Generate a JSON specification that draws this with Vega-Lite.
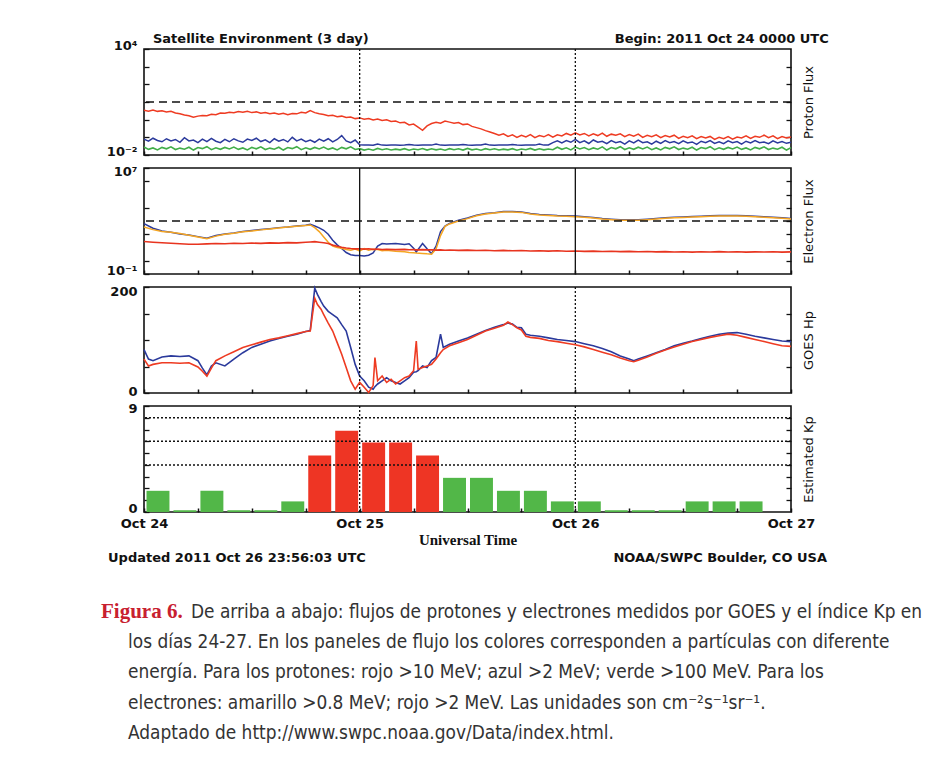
{
  "$schema": "https://vega.github.io/schema/vega-lite/v6.json",
  "background": "white",
  "padding": {"left": 100, "top": 32, "right": 5, "bottom": 5},
  "bounds": "flush",
  "spacing": 13,
  "config": {
    "view": {"stroke": "#111", "strokeWidth": 1.6},
    "font": "DejaVu Sans",
    "axis": {"labelFont": "DejaVu Sans", "labelFontSize": 13, "labelFontWeight": "bold", "labelColor": "#111", "tickColor": "#111", "titleFont": "DejaVu Sans", "titleFontWeight": "normal", "titleFontSize": 13, "titleColor": "#111", "grid": false, "domain": false, "labelFlush": false, "labelOverlap": false},
    "text": {"font": "DejaVu Sans", "fontSize": 13, "fontWeight": "bold", "color": "#111"}
  },
  "datasets": {
    "proton": [
      {"h":0,"g":-1.55,"b":-1.10,"r":0.53},{"h":0.5,"g":-1.68,"b":-1.22,"r":0.48},{"h":1,"g":-1.60,"b":-1.05,"r":0.55},{"h":1.5,"g":-1.71,"b":-1.18,"r":0.47},
      {"h":2,"g":-1.57,"b":-1.25,"r":0.50},{"h":2.5,"g":-1.65,"b":-1.08,"r":0.44},{"h":3,"g":-1.54,"b":-1.20,"r":0.47},{"h":3.5,"g":-1.69,"b":-1.12,"r":0.38},
      {"h":4,"g":-1.61,"b":-1.28,"r":0.33},{"h":4.5,"g":-1.67,"b":-1.02,"r":0.26},{"h":5,"g":-1.56,"b":-1.20,"r":0.22},{"h":5.5,"g":-1.72,"b":-1.15,"r":0.14},
      {"h":6,"g":-1.58,"b":-1.30,"r":0.20},{"h":6.5,"g":-1.64,"b":-1.10,"r":0.24},{"h":7,"g":-1.53,"b":-1.24,"r":0.22},{"h":7.5,"g":-1.70,"b":-1.06,"r":0.31},
      {"h":8,"g":-1.59,"b":-1.22,"r":0.28},{"h":8.5,"g":-1.68,"b":-1.30,"r":0.38},{"h":9,"g":-1.57,"b":-1.12,"r":0.36},{"h":9.5,"g":-1.66,"b":-1.25,"r":0.42},
      {"h":10,"g":-1.55,"b":-1.08,"r":0.39},{"h":10.5,"g":-1.68,"b":-1.20,"r":0.46},{"h":11,"g":-1.60,"b":-1.28,"r":0.42},{"h":11.5,"g":-1.71,"b":-1.10,"r":0.47},
      {"h":12,"g":-1.57,"b":-1.18,"r":0.40},{"h":12.5,"g":-1.65,"b":-1.05,"r":0.44},{"h":13,"g":-1.54,"b":-1.24,"r":0.36},{"h":13.5,"g":-1.69,"b":-1.14,"r":0.40},
      {"h":14,"g":-1.61,"b":-1.30,"r":0.33},{"h":14.5,"g":-1.67,"b":-1.08,"r":0.38},{"h":15,"g":-1.56,"b":-1.22,"r":0.31},{"h":15.5,"g":-1.72,"b":-1.12,"r":0.36},
      {"h":16,"g":-1.58,"b":-1.26,"r":0.28},{"h":16.5,"g":-1.64,"b":-1.00,"r":0.35},{"h":17,"g":-1.53,"b":-1.20,"r":0.33},{"h":17.5,"g":-1.70,"b":-1.10,"r":0.42},
      {"h":18,"g":-1.59,"b":-1.25,"r":0.38},{"h":18.5,"g":-1.68,"b":-1.15,"r":0.52},{"h":19,"g":-1.57,"b":-1.28,"r":0.40},{"h":19.5,"g":-1.66,"b":-1.10,"r":0.33},
      {"h":20,"g":-1.55,"b":-1.22,"r":0.29},{"h":20.5,"g":-1.68,"b":-1.08,"r":0.22},{"h":21,"g":-1.60,"b":-1.26,"r":0.25},{"h":21.5,"g":-1.71,"b":-1.12,"r":0.17},
      {"h":22,"g":-1.57,"b":-0.90,"r":0.20},{"h":22.5,"g":-1.65,"b":-1.20,"r":0.12},{"h":23,"g":-1.54,"b":-1.30,"r":0.15},{"h":23.5,"g":-1.69,"b":-1.15,"r":0.06},
      {"h":24,"g":-1.64,"b":-1.42,"r":0.10},{"h":24.5,"g":-1.72,"b":-1.44,"r":0.03},{"h":25,"g":-1.66,"b":-1.43,"r":0.07},{"h":25.5,"g":-1.73,"b":-1.45,"r":-0.02},
      {"h":26,"g":-1.63,"b":-1.38,"r":0.04},{"h":26.5,"g":-1.70,"b":-1.44,"r":-0.05},{"h":27,"g":-1.65,"b":-1.45,"r":-0.01},{"h":27.5,"g":-1.72,"b":-1.43,"r":-0.10},
      {"h":28,"g":-1.67,"b":-1.44,"r":-0.08},{"h":28.5,"g":-1.71,"b":-1.45,"r":-0.18},{"h":29,"g":-1.64,"b":-1.44,"r":-0.15},{"h":29.5,"g":-1.73,"b":-1.40,"r":-0.30},
      {"h":30,"g":-1.66,"b":-1.44,"r":-0.25},{"h":30.5,"g":-1.70,"b":-1.45,"r":-0.42},{"h":31,"g":-1.63,"b":-1.44,"r":-0.60},{"h":31.5,"g":-1.72,"b":-1.43,"r":-0.35},
      {"h":32,"g":-1.65,"b":-1.44,"r":-0.22},{"h":32.5,"g":-1.71,"b":-1.38,"r":-0.15},{"h":33,"g":-1.66,"b":-1.44,"r":-0.20},{"h":33.5,"g":-1.73,"b":-1.45,"r":-0.08},
      {"h":34,"g":-1.64,"b":-1.44,"r":-0.14},{"h":34.5,"g":-1.70,"b":-1.43,"r":-0.20},{"h":35,"g":-1.65,"b":-1.44,"r":-0.16},{"h":35.5,"g":-1.72,"b":-1.40,"r":-0.28},
      {"h":36,"g":-1.63,"b":-1.44,"r":-0.24},{"h":36.5,"g":-1.71,"b":-1.45,"r":-0.38},{"h":37,"g":-1.66,"b":-1.44,"r":-0.45},{"h":37.5,"g":-1.73,"b":-1.43,"r":-0.52},
      {"h":38,"g":-1.64,"b":-1.38,"r":-0.62},{"h":38.5,"g":-1.70,"b":-1.44,"r":-0.70},{"h":39,"g":-1.65,"b":-1.45,"r":-0.78},{"h":39.5,"g":-1.72,"b":-1.44,"r":-0.88},
      {"h":40,"g":-1.67,"b":-1.43,"r":-0.80},{"h":40.5,"g":-1.71,"b":-1.44,"r":-0.95},{"h":41,"g":-1.64,"b":-1.40,"r":-0.86},{"h":41.5,"g":-1.73,"b":-1.44,"r":-1.00},
      {"h":42,"g":-1.66,"b":-1.45,"r":-0.88},{"h":42.5,"g":-1.70,"b":-1.44,"r":-0.98},{"h":43,"g":-1.63,"b":-1.43,"r":-0.85},{"h":43.5,"g":-1.72,"b":-1.44,"r":-1.02},
      {"h":44,"g":-1.65,"b":-1.38,"r":-0.90},{"h":44.5,"g":-1.71,"b":-1.44,"r":-0.97},{"h":45,"g":-1.66,"b":-1.43,"r":-0.84},{"h":45.5,"g":-1.70,"b":-1.30,"r":-0.99},
      {"h":46,"g":-1.56,"b":-1.20,"r":-0.86},{"h":46.5,"g":-1.68,"b":-1.32,"r":-0.92},{"h":47,"g":-1.59,"b":-1.18,"r":-0.78},{"h":47.5,"g":-1.71,"b":-1.28,"r":-0.88},
      {"h":48,"g":-1.55,"b":-1.12,"r":-0.74},{"h":48.5,"g":-1.66,"b":-1.30,"r":-0.86},{"h":49,"g":-1.58,"b":-1.20,"r":-0.78},{"h":49.5,"g":-1.70,"b":-1.35,"r":-0.92},
      {"h":50,"g":-1.60,"b":-1.15,"r":-0.80},{"h":50.5,"g":-1.67,"b":-1.28,"r":-0.90},{"h":51,"g":-1.54,"b":-1.22,"r":-0.76},{"h":51.5,"g":-1.72,"b":-1.36,"r":-0.94},
      {"h":52,"g":-1.58,"b":-1.18,"r":-0.82},{"h":52.5,"g":-1.65,"b":-1.30,"r":-0.88},{"h":53,"g":-1.53,"b":-1.24,"r":-0.80},{"h":53.5,"g":-1.69,"b":-1.38,"r":-0.96},
      {"h":54,"g":-1.59,"b":-1.20,"r":-0.84},{"h":54.5,"g":-1.68,"b":-1.32,"r":-0.93},{"h":55,"g":-1.56,"b":-1.16,"r":-0.82},{"h":55.5,"g":-1.66,"b":-1.30,"r":-1.00},
      {"h":56,"g":-1.55,"b":-1.25,"r":-0.88},{"h":56.5,"g":-1.70,"b":-1.38,"r":-0.96},{"h":57,"g":-1.60,"b":-1.22,"r":-0.86},{"h":57.5,"g":-1.71,"b":-1.34,"r":-1.02},
      {"h":58,"g":-1.57,"b":-1.18,"r":-0.90},{"h":58.5,"g":-1.65,"b":-1.30,"r":-0.98},{"h":59,"g":-1.54,"b":-1.24,"r":-0.88},{"h":59.5,"g":-1.69,"b":-1.36,"r":-1.06},
      {"h":60,"g":-1.61,"b":-1.20,"r":-0.94},{"h":60.5,"g":-1.67,"b":-1.32,"r":-1.02},{"h":61,"g":-1.56,"b":-1.26,"r":-0.92},{"h":61.5,"g":-1.72,"b":-1.40,"r":-1.08},
      {"h":62,"g":-1.58,"b":-1.22,"r":-0.96},{"h":62.5,"g":-1.64,"b":-1.30,"r":-1.04},{"h":63,"g":-1.53,"b":-1.18,"r":-0.95},{"h":63.5,"g":-1.70,"b":-1.34,"r":-1.12},
      {"h":64,"g":-1.59,"b":-1.25,"r":-1.00},{"h":64.5,"g":-1.68,"b":-1.36,"r":-1.08},{"h":65,"g":-1.57,"b":-1.20,"r":-0.96},{"h":65.5,"g":-1.66,"b":-1.30,"r":-1.10},
      {"h":66,"g":-1.55,"b":-1.24,"r":-0.98},{"h":66.5,"g":-1.68,"b":-1.38,"r":-1.04},{"h":67,"g":-1.60,"b":-1.22,"r":-0.92},{"h":67.5,"g":-1.71,"b":-1.32,"r":-1.06},
      {"h":68,"g":-1.57,"b":-1.18,"r":-0.94},{"h":68.5,"g":-1.65,"b":-1.30,"r":-1.00},{"h":69,"g":-1.54,"b":-1.26,"r":-0.88},{"h":69.5,"g":-1.69,"b":-1.36,"r":-1.02},
      {"h":70,"g":-1.61,"b":-1.20,"r":-0.92},{"h":70.5,"g":-1.67,"b":-1.32,"r":-1.08},{"h":71,"g":-1.56,"b":-1.24,"r":-0.96},{"h":71.5,"g":-1.72,"b":-1.34,"r":-1.04},
      {"h":72,"g":-1.58,"b":-1.28,"r":-0.98}
    ],
    "electron": [
      {"h":0,"o":2.55,"b":2.80,"r":1.45},{"h":1,"o":2.35,"b":2.45,"r":1.40},{"h":2,"o":2.20,"b":2.25,"r":1.36},{"h":3,"o":2.15,"b":2.15,"r":1.32},
      {"h":4,"o":2.05,"b":2.02,"r":1.28},{"h":5,"o":1.92,"b":1.95,"r":1.25},{"h":6,"o":1.80,"b":1.82,"r":1.24},{"h":7,"o":1.66,"b":1.70,"r":1.27},
      {"h":8,"o":1.86,"b":1.90,"r":1.30},{"h":9,"o":2.00,"b":2.02,"r":1.28},{"h":10,"o":2.08,"b":2.10,"r":1.32},{"h":11,"o":2.18,"b":2.20,"r":1.30},
      {"h":12,"o":2.25,"b":2.28,"r":1.34},{"h":13,"o":2.33,"b":2.35,"r":1.31},{"h":14,"o":2.40,"b":2.42,"r":1.35},{"h":15,"o":2.48,"b":2.50,"r":1.33},
      {"h":16,"o":2.55,"b":2.55,"r":1.37},{"h":17,"o":2.60,"b":2.62,"r":1.35},{"h":18,"o":2.66,"b":2.68,"r":1.40},{"h":18.5,"o":2.70,"b":2.76,"r":1.42},
      {"h":19,"o":2.50,"b":2.62,"r":1.44},{"h":19.5,"o":2.20,"b":2.48,"r":1.40},{"h":20,"o":1.80,"b":2.30,"r":1.36},{"h":20.5,"o":1.40,"b":2.00,"r":1.30},
      {"h":21,"o":1.10,"b":1.55,"r":1.18},{"h":21.5,"o":1.00,"b":1.20,"r":1.10},{"h":22,"o":0.95,"b":0.92,"r":1.02},{"h":22.5,"o":0.85,"b":0.62,"r":0.96},
      {"h":23,"o":0.80,"b":0.46,"r":0.92},{"h":23.5,"o":0.88,"b":0.40,"r":0.90},{"h":24,"o":0.75,"b":0.40,"r":0.91},{"h":24.5,"o":0.92,"b":0.36,"r":0.88},
      {"h":25,"o":0.80,"b":0.42,"r":0.90},{"h":25.5,"o":0.86,"b":0.60,"r":0.86},{"h":26,"o":0.84,"b":1.10,"r":0.89},{"h":26.5,"o":0.76,"b":1.30,"r":0.85},
      {"h":27,"o":0.80,"b":1.26,"r":0.87},{"h":28,"o":0.72,"b":1.30,"r":0.84},{"h":29,"o":0.68,"b":1.22,"r":0.86},{"h":29.5,"o":0.62,"b":1.28,"r":0.83},
      {"h":30,"o":0.60,"b":0.95,"r":0.85},{"h":30.3,"o":0.58,"b":0.66,"r":0.82},{"h":31,"o":0.55,"b":1.30,"r":0.84},{"h":31.5,"o":0.52,"b":0.90,"r":0.82},
      {"h":32,"o":0.50,"b":0.53,"r":0.83},{"h":32.5,"o":0.90,"b":1.10,"r":0.80},{"h":33,"o":1.90,"b":2.20,"r":0.82},{"h":33.5,"o":2.60,"b":2.62,"r":0.79},
      {"h":34,"o":2.78,"b":2.82,"r":0.81},{"h":35,"o":3.00,"b":3.05,"r":0.78},{"h":36,"o":3.18,"b":3.22,"r":0.80},{"h":37,"o":3.40,"b":3.44,"r":0.77},
      {"h":38,"o":3.52,"b":3.56,"r":0.79},{"h":39,"o":3.60,"b":3.63,"r":0.76},{"h":40,"o":3.68,"b":3.72,"r":0.78},{"h":41,"o":3.68,"b":3.71,"r":0.75},
      {"h":42,"o":3.65,"b":3.68,"r":0.77},{"h":43,"o":3.52,"b":3.56,"r":0.74},{"h":44,"o":3.46,"b":3.50,"r":0.76},{"h":45,"o":3.42,"b":3.46,"r":0.73},
      {"h":46,"o":3.38,"b":3.42,"r":0.75},{"h":47,"o":3.36,"b":3.40,"r":0.72},{"h":48,"o":3.33,"b":3.37,"r":0.74},{"h":49,"o":3.28,"b":3.32,"r":0.71},
      {"h":50,"o":3.22,"b":3.26,"r":0.73},{"h":51,"o":3.15,"b":3.19,"r":0.70},{"h":52,"o":3.10,"b":3.14,"r":0.72},{"h":53,"o":3.06,"b":3.10,"r":0.69},
      {"h":54,"o":3.05,"b":3.09,"r":0.71},{"h":55,"o":3.06,"b":3.10,"r":0.68},{"h":56,"o":3.10,"b":3.14,"r":0.70},{"h":57,"o":3.15,"b":3.19,"r":0.67},
      {"h":58,"o":3.20,"b":3.24,"r":0.69},{"h":59,"o":3.24,"b":3.28,"r":0.66},{"h":60,"o":3.27,"b":3.31,"r":0.68},{"h":61,"o":3.30,"b":3.34,"r":0.65},
      {"h":62,"o":3.32,"b":3.36,"r":0.68},{"h":63,"o":3.35,"b":3.39,"r":0.66},{"h":64,"o":3.37,"b":3.41,"r":0.69},{"h":65,"o":3.38,"b":3.42,"r":0.66},
      {"h":66,"o":3.37,"b":3.41,"r":0.68},{"h":67,"o":3.35,"b":3.39,"r":0.65},{"h":68,"o":3.32,"b":3.36,"r":0.67},{"h":69,"o":3.28,"b":3.32,"r":0.66},
      {"h":70,"o":3.24,"b":3.28,"r":0.68},{"h":71,"o":3.20,"b":3.24,"r":0.65},{"h":72,"o":3.15,"b":3.19,"r":0.67}
    ],
    "hp": [
      {"h":0,"b":82,"r":64},{"h":0.5,"b":64,"r":51},{"h":1,"b":61,"r":54},{"h":2,"b":68,"r":57},{"h":3,"b":70,"r":57},{"h":4,"b":69,"r":56},
      {"h":5,"b":70,"r":57},{"h":6,"b":61,"r":49},{"h":6.5,"b":47,"r":41},{"h":7,"b":34,"r":32},{"h":7.5,"b":51,"r":47},{"h":8,"b":57,"r":61},
      {"h":9,"b":51,"r":70},{"h":10,"b":64,"r":78},{"h":11,"b":76,"r":86},{"h":12,"b":86,"r":91},{"h":13,"b":92,"r":96},{"h":14,"b":98,"r":101},
      {"h":15,"b":103,"r":104},{"h":16,"b":107,"r":108},{"h":17,"b":111,"r":112},{"h":18,"b":116,"r":116},{"h":18.5,"b":118,"r":117},
      {"h":19,"b":198,"r":179},{"h":19.3,"b":186,"r":167},{"h":19.7,"b":173,"r":158},{"h":20,"b":164,"r":148},{"h":20.5,"b":154,"r":132},
      {"h":21,"b":148,"r":117},{"h":21.5,"b":142,"r":95},{"h":22,"b":129,"r":73},{"h":22.5,"b":117,"r":48},{"h":23,"b":86,"r":23},{"h":23.5,"b":54,"r":7},
      {"h":24,"b":32,"r":20},{"h":24.5,"b":23,"r":11},{"h":25,"b":11,"r":1},{"h":25.5,"b":7,"r":14},{"h":25.7,"b":12,"r":67},{"h":26,"b":17,"r":23},
      {"h":26.5,"b":23,"r":32},{"h":27,"b":29,"r":20},{"h":27.5,"b":23,"r":26},{"h":28,"b":20,"r":17},{"h":28.5,"b":17,"r":23},{"h":29,"b":23,"r":29},
      {"h":29.5,"b":29,"r":32},{"h":30,"b":39,"r":42},{"h":30.3,"b":40,"r":98},{"h":30.5,"b":42,"r":45},{"h":31,"b":51,"r":48},{"h":31.5,"b":48,"r":51},
      {"h":32,"b":61,"r":54},{"h":32.5,"b":67,"r":64},{"h":33,"b":111,"r":76},{"h":33.3,"b":86,"r":82},{"h":34,"b":92,"r":89},{"h":35,"b":98,"r":95},
      {"h":36,"b":104,"r":101},{"h":37,"b":111,"r":109},{"h":38,"b":118,"r":117},{"h":39,"b":124,"r":122},{"h":40,"b":129,"r":128},{"h":40.5,"b":132,"r":134},
      {"h":41,"b":130,"r":129},{"h":41.5,"b":124,"r":123},{"h":42,"b":123,"r":119},{"h":42.5,"b":111,"r":107},{"h":43,"b":109,"r":105},{"h":44,"b":107,"r":103},
      {"h":45,"b":104,"r":99},{"h":46,"b":101,"r":97},{"h":47,"b":99,"r":94},{"h":48,"b":97,"r":91},{"h":49,"b":93,"r":87},{"h":50,"b":89,"r":82},
      {"h":51,"b":84,"r":77},{"h":52,"b":78,"r":72},{"h":53,"b":70,"r":66},{"h":54,"b":64,"r":61},{"h":54.5,"b":61,"r":59},{"h":55,"b":64,"r":62},
      {"h":56,"b":70,"r":68},{"h":57,"b":76,"r":75},{"h":58,"b":82,"r":81},{"h":59,"b":89,"r":87},{"h":60,"b":94,"r":92},{"h":61,"b":98,"r":97},
      {"h":62,"b":103,"r":101},{"h":63,"b":107,"r":105},{"h":64,"b":111,"r":108},{"h":65,"b":113,"r":111},{"h":66,"b":114,"r":109},{"h":67,"b":111,"r":105},
      {"h":68,"b":107,"r":101},{"h":69,"b":104,"r":97},{"h":70,"b":101,"r":93},{"h":71,"b":98,"r":89},{"h":72,"b":97,"r":88}
    ],
    "kp": [
      {"start":0,"end":3,"kp":1.8},{"start":3,"end":6,"kp":0.15},{"start":6,"end":9,"kp":1.8},{"start":9,"end":12,"kp":0.15},
      {"start":12,"end":15,"kp":0.15},{"start":15,"end":18,"kp":0.9},{"start":18,"end":21,"kp":4.8},{"start":21,"end":24,"kp":6.9},
      {"start":24,"end":27,"kp":5.9},{"start":27,"end":30,"kp":5.9},{"start":30,"end":33,"kp":4.8},{"start":33,"end":36,"kp":2.9},
      {"start":36,"end":39,"kp":2.9},{"start":39,"end":42,"kp":1.8},{"start":42,"end":45,"kp":1.8},{"start":45,"end":48,"kp":0.9},
      {"start":48,"end":51,"kp":0.9},{"start":51,"end":54,"kp":0.15},{"start":54,"end":57,"kp":0.15},{"start":57,"end":60,"kp":0.15},
      {"start":60,"end":63,"kp":0.9},{"start":63,"end":66,"kp":0.9},{"start":66,"end":69,"kp":0.9}
    ],
    "caption": [
      {"line":1,"x":-0.0665,"kind":"label","text":"Figura 6."},
      {"line":1,"x":0.0726,"kind":"body","text":"De arriba a abajo: flujos de protones y electrones medidos por GOES y el índice Kp en"},
      {"line":2,"x":-0.0247,"kind":"body","text":"los días 24-27. En los paneles de flujo los colores corresponden a partículas con diferente"},
      {"line":3,"x":-0.0247,"kind":"body","text":"energía. Para los protones: rojo >10 MeV; azul >2 MeV; verde >100 MeV. Para los"},
      {"line":4,"x":-0.0247,"kind":"body","text":"electrones: amarillo >0.8 MeV; rojo >2 MeV. Las unidades son cm⁻²s⁻¹sr⁻¹."},
      {"line":5,"x":-0.0247,"kind":"body","text":"Adaptado de http://www.swpc.noaa.gov/Data/index.html."}
    ]
  },
  "vconcat": [
    {
      "width": 647, "height": 106,
      "layer": [
        {"data": {"name": "proton"}, "mark": {"type": "line", "color": "#41ad48", "strokeWidth": 1.6},
         "encoding": {
           "x": {"field": "h", "type": "quantitative", "scale": {"domain": [0, 72], "nice": false, "zero": false},
                 "axis": {"values": [0,3,6,9,12,15,18,21,24,27,30,33,36,39,42,45,48,51,54,57,60,63,66,69,72], "labels": false, "tickSize": -4, "tickWidth": 1.5, "title": null}},
           "y": {"field": "g", "type": "quantitative", "scale": {"domain": [-2, 4], "nice": false, "zero": false},
                 "axis": {"orient": "left", "values": [-2,-1,0,1,2,3,4], "labelExpr": "datum.value == 4 ? '10⁴' : (datum.value == -2 ? '10⁻²' : '')", "labelOffset": -4, "tickSize": -5, "tickWidth": 1.3, "labelPadding": 12, "title": null}}
         }},
        {"data": {"name": "proton"}, "mark": {"type": "line", "color": "#2b3a9c", "strokeWidth": 1.5},
         "encoding": {
           "x": {"field": "h", "type": "quantitative", "scale": {"domain": [0, 72], "nice": false, "zero": false}},
           "y": {"field": "b", "type": "quantitative", "scale": {"domain": [-2, 4], "nice": false, "zero": false}, "axis": null}
         }},
        {"data": {"name": "proton"}, "mark": {"type": "line", "color": "#ee3b22", "strokeWidth": 1.5},
         "encoding": {
           "x": {"field": "h", "type": "quantitative", "scale": {"domain": [0, 72], "nice": false, "zero": false}},
           "y": {"field": "r", "type": "quantitative", "scale": {"domain": [-2, 4], "nice": false, "zero": false}, "axis": null}
         }},
        {"data": {"values": [{"h": 24}, {"h": 48}]}, "mark": {"type": "rule", "strokeDash": [2, 2], "color": "#111", "strokeWidth": 1.3},
         "encoding": {"x": {"field": "h", "type": "quantitative", "scale": {"domain": [0, 72], "nice": false, "zero": false}}}},
        {"data": {"values": [{"v": 1}]}, "mark": {"type": "rule", "strokeDash": [8, 5], "color": "#111", "strokeWidth": 1.6},
         "encoding": {"y": {"field": "v", "type": "quantitative", "scale": {"domain": [-2, 4], "nice": false, "zero": false},
           "axis": {"orient": "right", "values": [-1,0,1,2,3], "labels": false, "tickSize": -5, "tickWidth": 1.3, "title": "Proton Flux", "titleAngle": 270, "titlePadding": 17, "titleBaseline": "middle"}}}},
        {"data": {"values": [{"h": 1.0, "text": "Satellite Environment (3 day)"}]}, "mark": {"type": "text", "align": "left", "baseline": "bottom", "dy": -3},
         "encoding": {"x": {"field": "h", "type": "quantitative", "scale": {"domain": [0, 72], "nice": false, "zero": false}},
                      "y": {"datum": 4, "type": "quantitative", "scale": {"domain": [-2, 4], "nice": false, "zero": false}, "axis": null},
                      "text": {"field": "text"}}},
        {"data": {"values": [{"h": 76.2, "text": "Begin:  2011 Oct 24 0000 UTC"}]}, "mark": {"type": "text", "align": "right", "baseline": "bottom", "dy": -3},
         "encoding": {"x": {"field": "h", "type": "quantitative", "scale": {"domain": [0, 72], "nice": false, "zero": false}},
                      "y": {"datum": 4, "type": "quantitative", "scale": {"domain": [-2, 4], "nice": false, "zero": false}, "axis": null},
                      "text": {"field": "text"}}}
      ],
      "resolve": {"axis": {"y": "independent"}}
    },
    {
      "width": 647, "height": 106,
      "layer": [
        {"data": {"name": "electron"}, "mark": {"type": "line", "color": "#2b3a9c", "strokeWidth": 1.5},
         "encoding": {
           "x": {"field": "h", "type": "quantitative", "scale": {"domain": [0, 72], "nice": false, "zero": false},
                 "axis": {"values": [0,3,6,9,12,15,18,21,24,27,30,33,36,39,42,45,48,51,54,57,60,63,66,69,72], "labels": false, "tickSize": -4, "tickWidth": 1.5, "title": null}},
           "y": {"field": "b", "type": "quantitative", "scale": {"domain": [-1, 7], "nice": false, "zero": false},
                 "axis": {"orient": "left", "values": [-1,0,2,4,6,7], "labelExpr": "datum.value == 7 ? '10⁷' : (datum.value == -1 ? '10⁻¹' : '')", "labelOffset": {"condition": {"test": "datum.value == 7", "value": 3}, "value": -4}, "tickSize": -5, "tickWidth": 1.3, "labelPadding": 12, "title": null}}
         }},
        {"data": {"name": "electron"}, "mark": {"type": "line", "color": "#f5a623", "strokeWidth": 1.5},
         "encoding": {
           "x": {"field": "h", "type": "quantitative", "scale": {"domain": [0, 72], "nice": false, "zero": false}},
           "y": {"field": "o", "type": "quantitative", "scale": {"domain": [-1, 7], "nice": false, "zero": false}, "axis": null}
         }},
        {"data": {"name": "electron"}, "mark": {"type": "line", "color": "#e8341f", "strokeWidth": 1.6},
         "encoding": {
           "x": {"field": "h", "type": "quantitative", "scale": {"domain": [0, 72], "nice": false, "zero": false}},
           "y": {"field": "r", "type": "quantitative", "scale": {"domain": [-1, 7], "nice": false, "zero": false}, "axis": null}
         }},
        {"data": {"values": [{"h": 24}, {"h": 48}]}, "mark": {"type": "rule", "color": "#111", "strokeWidth": 1.3},
         "encoding": {"x": {"field": "h", "type": "quantitative", "scale": {"domain": [0, 72], "nice": false, "zero": false}}}},
        {"data": {"values": [{"v": 3}]}, "mark": {"type": "rule", "strokeDash": [8, 5], "color": "#111", "strokeWidth": 1.6},
         "encoding": {"y": {"field": "v", "type": "quantitative", "scale": {"domain": [-1, 7], "nice": false, "zero": false},
           "axis": {"orient": "right", "values": [0,1,2,3,4,5,6], "labels": false, "tickSize": -5, "tickWidth": 1.3, "title": "Electron Flux", "titleAngle": 270, "titlePadding": 17, "titleBaseline": "middle"}}}}
      ],
      "resolve": {"axis": {"y": "independent"}}
    },
    {
      "width": 647, "height": 106,
      "layer": [
        {"data": {"name": "hp"}, "mark": {"type": "line", "color": "#2b3a9c", "strokeWidth": 1.6},
         "encoding": {
           "x": {"field": "h", "type": "quantitative", "scale": {"domain": [0, 72], "nice": false, "zero": false},
                 "axis": {"values": [0,3,6,9,12,15,18,21,24,27,30,33,36,39,42,45,48,51,54,57,60,63,66,69,72], "labels": false, "tickSize": -4, "tickWidth": 1.5, "title": null}},
           "y": {"field": "b", "type": "quantitative", "scale": {"domain": [0, 200], "nice": false, "zero": false},
                 "axis": {"orient": "left", "values": [0,50,100,150,200], "labelExpr": "datum.value == 200 ? '200' : (datum.value == 0 ? '0' : '')", "labelOffset": {"condition": {"test": "datum.value == 200", "value": 4}, "value": -2}, "tickSize": -5, "tickWidth": 1.3, "labelPadding": 12, "title": null}}
         }},
        {"data": {"values": [{"h": 24}, {"h": 48}]}, "mark": {"type": "rule", "strokeDash": [2, 2], "color": "#111", "strokeWidth": 1.3},
         "encoding": {"x": {"field": "h", "type": "quantitative", "scale": {"domain": [0, 72], "nice": false, "zero": false}}}},
        {"data": {"name": "hp"}, "mark": {"type": "line", "color": "#ee3b22", "strokeWidth": 1.6},
         "encoding": {
           "x": {"field": "h", "type": "quantitative", "scale": {"domain": [0, 72], "nice": false, "zero": false}},
           "y": {"field": "r", "type": "quantitative", "scale": {"domain": [0, 200], "nice": false, "zero": false},
                 "axis": {"orient": "right", "values": [50,100,150], "labels": false, "tickSize": -5, "tickWidth": 1.3, "title": "GOES Hp", "titleAngle": 270, "titlePadding": 17, "titleBaseline": "middle"}}
         }}
      ],
      "resolve": {"axis": {"y": "independent"}}
    },
    {
      "width": 647, "height": 106,
      "layer": [
        {"data": {"name": "kp"}, "mark": {"type": "bar", "binSpacing": 4},
         "encoding": {
           "x": {"field": "start", "type": "quantitative", "bin": "binned", "scale": {"domain": [0, 72], "nice": false, "zero": false},
                 "axis": {"values": [0,3,6,9,12,15,18,21,24,27,30,33,36,39,42,45,48,51,54,57,60,63,66,69,72], "labelExpr": "datum.value % 24 == 0 ? 'Oct ' + (24 + datum.value / 24) : ''", "labelPadding": 9, "tickSize": -4, "tickWidth": 1.5,
                          "title": "Universal Time", "titleFont": "Liberation Serif", "titleFontWeight": "bold", "titleFontSize": 15, "titlePadding": 2}},
           "x2": {"field": "end"},
           "y": {"field": "kp", "type": "quantitative", "scale": {"domain": [0, 9], "nice": false, "zero": false},
                 "axis": {"orient": "left", "values": [0,1,2,3,4,5,6,7,8,9], "labelExpr": "datum.value == 9 ? '9' : (datum.value == 0 ? '0' : '')", "labelOffset": {"condition": {"test": "datum.value == 9", "value": 2}, "value": -4}, "tickSize": -5, "tickWidth": 1.3, "labelPadding": 12, "title": null}},
           "color": {"condition": {"test": "datum.kp >= 4.5", "value": "#ee3524"}, "value": "#52b748"}
         }},
        {"data": {"values": [{"h": 24}, {"h": 48}]}, "mark": {"type": "rule", "strokeDash": [2, 2], "color": "#111", "strokeWidth": 1.3},
         "encoding": {"x": {"field": "h", "type": "quantitative", "scale": {"domain": [0, 72], "nice": false, "zero": false}}}},
        {"data": {"values": [{"v": 4}, {"v": 6}, {"v": 8}]}, "mark": {"type": "rule", "strokeDash": [2, 2], "color": "#111", "strokeWidth": 1.5},
         "encoding": {"y": {"field": "v", "type": "quantitative", "scale": {"domain": [0, 9], "nice": false, "zero": false},
           "axis": {"orient": "right", "values": [1,2,3,4,5,6,7,8], "labels": false, "tickSize": -5, "tickWidth": 1.3, "title": "Estimated Kp", "titleAngle": 270, "titlePadding": 17, "titleBaseline": "middle"}}}},
        {"data": {"values": [{"h": -4.0, "text": "Updated 2011 Oct 26 23:56:03 UTC"}]}, "mark": {"type": "text", "align": "left", "baseline": "middle"},
         "encoding": {"x": {"field": "h", "type": "quantitative", "scale": {"domain": [0, 72], "nice": false, "zero": false}},
                      "y": {"datum": -3.9, "type": "quantitative", "scale": {"domain": [0, 9], "nice": false, "zero": false}, "axis": null},
                      "text": {"field": "text"}}},
        {"data": {"values": [{"h": 76.0, "text": "NOAA/SWPC Boulder, CO USA"}]}, "mark": {"type": "text", "align": "right", "baseline": "middle"},
         "encoding": {"x": {"field": "h", "type": "quantitative", "scale": {"domain": [0, 72], "nice": false, "zero": false}},
                      "y": {"datum": -3.9, "type": "quantitative", "scale": {"domain": [0, 9], "nice": false, "zero": false}, "axis": null},
                      "text": {"field": "text"}}}
      ],
      "resolve": {"axis": {"y": "independent"}}
    },
    {
      "width": 647, "height": 230,
      "view": {"stroke": null},
      "data": {"name": "caption"},
      "layer": [
        {"transform": [{"filter": "datum.kind == 'body'"}],
         "mark": {"type": "text", "align": "left", "baseline": "middle", "font": "Liberation Sans Narrow, DejaVu Sans Condensed, sans-serif", "fontWeight": "normal", "fontSize": 18.9, "color": "#333333"},
         "encoding": {
           "x": {"field": "x", "type": "quantitative", "scale": {"domain": [0, 1], "nice": false, "zero": false}, "axis": null},
           "y": {"field": "line", "type": "quantitative", "scale": {"domain": [-1.85, 5.72], "reverse": true, "nice": false, "zero": false}, "axis": null},
           "text": {"field": "text"}
         }},
        {"transform": [{"filter": "datum.kind == 'label'"}],
         "mark": {"type": "text", "align": "left", "baseline": "middle", "font": "Liberation Serif", "fontWeight": "bold", "fontSize": 21, "color": "#c8202f"},
         "encoding": {
           "x": {"field": "x", "type": "quantitative", "scale": {"domain": [0, 1], "nice": false, "zero": false}, "axis": null},
           "y": {"field": "line", "type": "quantitative", "scale": {"domain": [-1.85, 5.72], "reverse": true, "nice": false, "zero": false}, "axis": null},
           "text": {"field": "text"}
         }}
      ]
    }
  ]
}
